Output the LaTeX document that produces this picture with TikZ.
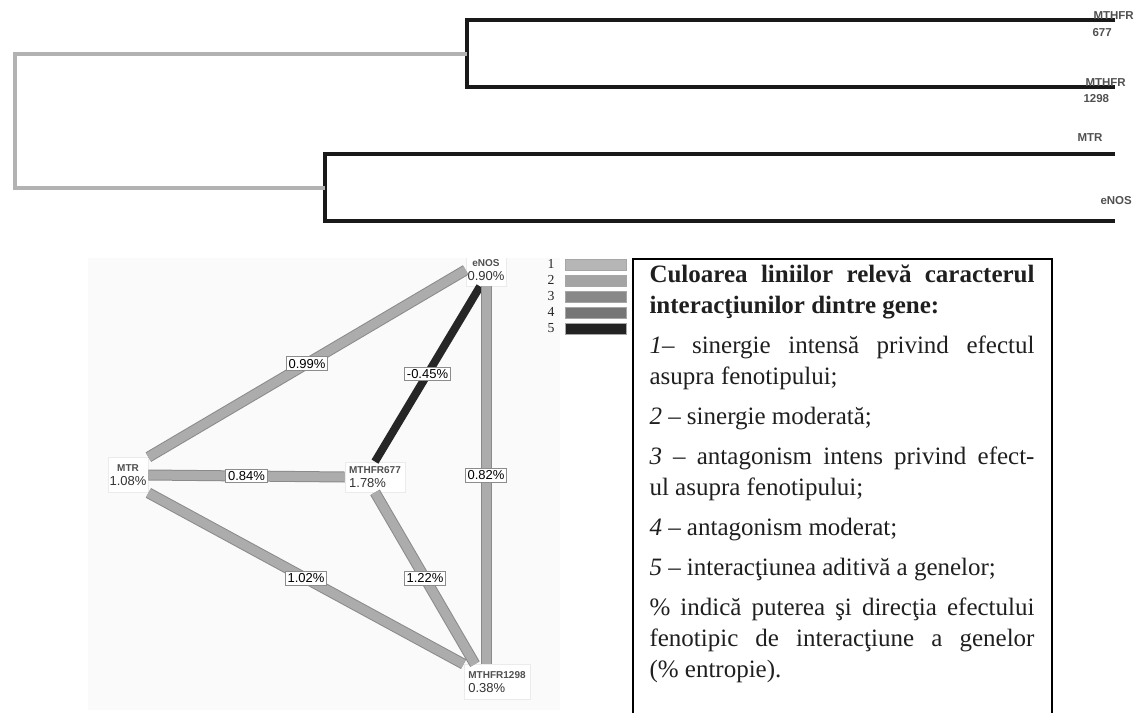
\documentclass[tikz,border=0pt]{standalone}
\usepackage{fontspec}
\setmainfont{Liberation Serif}
\setsansfont{Liberation Sans}

\definecolor{treeblack}{RGB}{25,25,25}
\definecolor{treegray}{RGB}{178,178,178}
\definecolor{labgray}{RGB}{80,80,80}
\definecolor{panelbg}{RGB}{250,250,250}
\definecolor{edgefill}{RGB}{172,172,172}
\definecolor{edgeline}{RGB}{138,138,138}
\definecolor{edgeblack}{RGB}{38,38,38}
\definecolor{legA}{RGB}{182,182,182}
\definecolor{legB}{RGB}{164,164,164}
\definecolor{legC}{RGB}{136,136,136}
\definecolor{legD}{RGB}{118,118,118}
\definecolor{legE}{RGB}{35,35,35}

\newcommand{\gname}{\fontsize{4}{5}\selectfont\sffamily\bfseries\color{labgray}}
\newcommand{\gval}{\fontsize{5.2}{5.4}\selectfont\sffamily\color{black!80}}

\begin{document}
\begin{tikzpicture}[x=0.4pt,y=-0.4pt,
  treeline/.style={draw=treeblack,line width=1.6pt},
  rootline/.style={draw=treegray,line width=1.6pt},
  leaf/.style={font=\fontsize{4.6}{5}\selectfont\sffamily\bfseries,text=labgray,inner sep=0pt},
  gene/.style={draw=black!8,fill=white,line width=0.3pt,inner sep=0.6pt,font=\gval},
  band/.style={draw=edgeline,line width=0.4pt,double=edgefill,double distance=3.6pt},
  additive/.style={draw=edgeblack,line width=3.2pt},
  elabel/.style={draw=black!45,fill=white,line width=0.3pt,inner sep=0.9pt,font=\fontsize{5.2}{6}\selectfont\sffamily},
  legbar/.style={draw=black!35,line width=0.3pt},
  legnum/.style={font=\fontsize{5.5}{6}\selectfont,text=black!85,inner sep=0pt}]
\useasboundingbox (0.000000,0.000000) rectangle (1145.000000,713.000000);
% Drawing the dendrogram
\coordinate (l677) at (1115.000000,20.000000);
\coordinate (l1298) at (1115.000000,87.000000);
\coordinate (lMTR) at (1115.000000,154.000000);
\coordinate (leNOS) at (1115.000000,221.000000);
\coordinate (j677) at (467.000000,53.500000);
\coordinate (jMTR) at (325.000000,187.500000);
\coordinate (root) at (15.000000,120.000000);
\draw[treeline] (l677) -| (j677) |- (l1298);
\draw[treeline] (lMTR) -| (jMTR) |- (leNOS);
\draw[rootline] (j677) -| (root) |- (jMTR);
% Leaf labels
\node[leaf,anchor=base west] (t677a) at (1093.000000,19.000000) {MTHFR};
\node[leaf,anchor=base west] (t677b) at (1092.000000,36.000000) {677};
\node[leaf,anchor=base west] (t1298a) at (1085.000000,86.000000) {MTHFR};
\node[leaf,anchor=base west] (t1298b) at (1083.000000,102.000000) {1298};
\node[leaf,anchor=base west] (tMTR) at (1077.000000,141.000000) {MTR};
\node[leaf,anchor=base west] (teNOS) at (1100.000000,204.000000) {eNOS};
% Done with dendrogram; drawing interaction graph
\fill[panelbg] (88.000000,258.000000) rectangle (560.000000,710.000000);
\begin{scope}
\clip (88.000000,258.000000) rectangle (560.000000,710.000000);
\node[gene,align=center,minimum width=16pt,minimum height=14pt] (nMTR) at (128.000000,475.000000) {{\gname MTR}\\1.08\%};
\node[gene,align=center,minimum width=15.2pt,minimum height=12.8pt] (neNOS) at (486.000000,270.000000) {{\gname eNOS}\\0.90\%};
\node[gene,align=left,minimum width=24pt,minimum height=12pt] (n677) at (375.000000,477.000000) {{\gname MTHFR677}\\1.78\%};
\node[gene,align=left,minimum width=26.4pt,minimum height=14pt] (n1298) at (497.000000,682.000000) {{\gname MTHFR1298}\\0.38\%};
% Edges
\draw[band] (nMTR.north east) -- (neNOS.west);
\draw[band] (nMTR.east) -- (n677.west);
\draw[band] (nMTR.south east) -- (n1298.north west);
\draw[additive] (n677.north) -- (neNOS.250);
\draw[band] (neNOS.south) -- (neNOS.south |- n1298.north);
\draw[band] (n677.south) -- (n1298.141);
% Edge labels
\path (nMTR.north east) -- (neNOS.west) node[elabel,midway] (e099) {0.99\%};
\path (nMTR.east) -- (n677.west) node[elabel,midway] (e084) {0.84\%};
\path (nMTR.south east) -- (n1298.north west) node[elabel,midway] (e102) {1.02\%};
\path (n677.north) -- (neNOS.250) node[elabel,midway] (e045) {-0.45\%};
\path (neNOS.south) -- (neNOS.south |- n1298.north) node[elabel,midway] (e082) {0.82\%};
\path (n677.south) -- (n1298.141) node[elabel,midway] (e122) {1.22\%};
\end{scope}
% Done with graph; drawing legend
\node[legnum] (k1) at (551.000000,264.000000) {1};
\node[legnum] (k2) at (551.000000,280.000000) {2};
\node[legnum] (k3) at (551.000000,296.000000) {3};
\node[legnum] (k4) at (551.000000,312.000000) {4};
\node[legnum] (k5) at (551.000000,328.000000) {5};
\filldraw[legbar,fill=legA] (565.000000,259.500000) rectangle (626.000000,270.500000);
\filldraw[legbar,fill=legB] (565.000000,275.500000) rectangle (626.000000,286.500000);
\filldraw[legbar,fill=legC] (565.000000,291.500000) rectangle (626.000000,302.500000);
\filldraw[legbar,fill=legD] (565.000000,307.500000) rectangle (626.000000,318.500000);
\filldraw[legbar,fill=legE] (565.000000,323.500000) rectangle (626.000000,334.500000);
% Text box
\draw[line width=0.5pt] (633.000000,713.000000) -- (633.000000,259.000000) -- (1052.000000,259.000000) -- (1052.000000,713.000000);
\node[anchor=base west,text width=154pt,align=justify,inner sep=0pt,font=\fontsize{10}{12.4}\selectfont,text=black!88] (legtext) at (649.000000,282.000000) {\setlength{\parskip}{3.6pt}%
\textbf{Culoarea liniilor relevă caracterul\linebreak interacţiunilor dintre gene:}\par
\textit{1}– sinergie intensă privind efectul\linebreak asupra fenotipului;\par
\textit{2} – sinergie moderată;\par
\textit{3} – antagonism intens privind efect-\linebreak ul asupra fenotipului;\par
\textit{4} – antagonism moderat;\par
\textit{5} – interacţiunea aditivă a genelor;\par
\% indică puterea şi direcţia efectului\linebreak fenotipic de interacţiune a genelor\linebreak (\% entropie).};
% Done with legend
\end{tikzpicture}
\end{document}
